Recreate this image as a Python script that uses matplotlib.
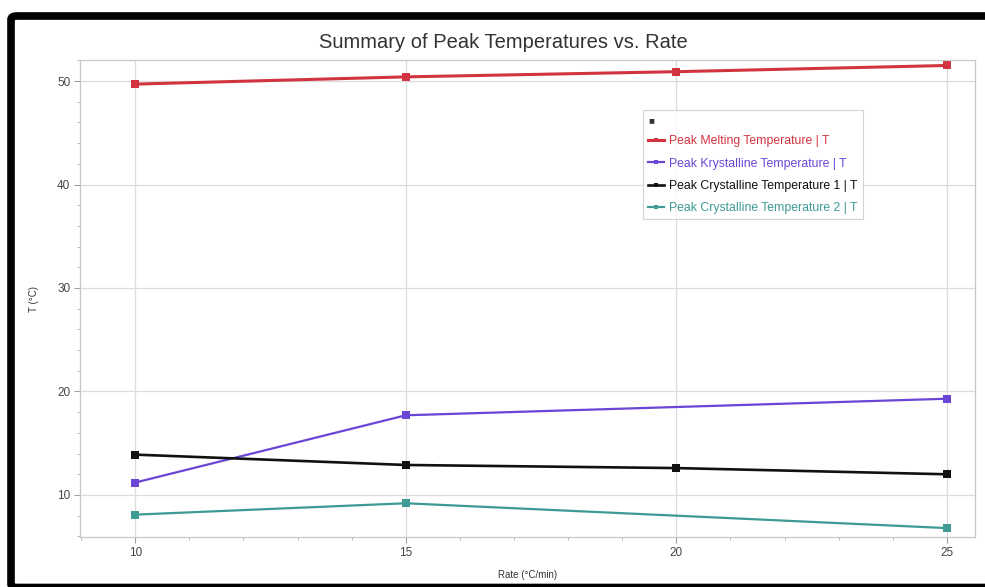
import matplotlib

matplotlib.use("Agg")
import matplotlib.pyplot as plt
from matplotlib.patches import FancyBboxPatch
from matplotlib.ticker import MultipleLocator

plt.rcParams["font.family"] = ["Liberation Sans", "DejaVu Sans"]

# peak temperatures (°C) against heating rate (°C/min)
rate_all = [10, 15, 20, 25]
rate_partial = [10, 15, 25]
melting = [49.7, 50.4, 50.9, 51.5]
krystalline = [11.2, 17.7, 19.3]
crystalline_1 = [13.9, 12.9, 12.6, 12.0]
crystalline_2 = [8.1, 9.2, 6.8]

series = [
    ("Peak Melting Temperature | T", rate_all, melting, "#d1343f", 2.2),
    ("Peak Krystalline Temperature | T", rate_partial, krystalline, "#6a45d6", 1.6),
    ("Peak Crystalline Temperature 1 | T", rate_all, crystalline_1, "#111111", 1.9),
    ("Peak Crystalline Temperature 2 | T", rate_partial, crystalline_2, "#3e9a94", 1.6),
]

W, H = 985, 587
fig = plt.figure(figsize=(W / 100, H / 100), dpi=100)
ax = fig.add_axes([80 / W, 1 - 537 / H, 895 / W, 477 / H])

for label, x, y, color, lw in series:
    ax.plot(x, y, color=color, linewidth=lw, marker="s", markersize=6,
            markeredgewidth=0, label=label)

ax.set_xlim(8.98, 25.52)
ax.set_ylim(5.94, 52.03)
ax.set_xticks(rate_all)
ax.xaxis.set_minor_locator(MultipleLocator(1))
ax.yaxis.set_major_locator(MultipleLocator(10))
ax.yaxis.set_minor_locator(MultipleLocator(2))
ax.grid(True, which="major", color="#dcdcdc", linewidth=0.9)
for s in ax.spines.values():
    s.set_color("#c8c8c8")
    s.set_linewidth(0.9)
ax.tick_params(which="major", length=4, color="#a0a0a0", labelsize=8.5, labelcolor="#444444", pad=3)
ax.tick_params(which="minor", length=2.5, color="#b0b0b0")

ax.set_xlabel("Rate (°C/min)", fontsize=7, color="#333333", labelpad=8)
ax.set_ylabel("T (°C)", fontsize=7, color="#333333", labelpad=13)
fig.text(503 / W, 1 - 43 / H, "Summary of Peak Temperatures vs. Rate",
         ha="center", va="center", fontsize=14.5, color="#333333")

leg = ax.legend(loc="upper left", bbox_to_anchor=(643 / W, 1 - 110 / H),
                bbox_transform=fig.transFigure, title="■", alignment="left",
                fontsize=8.8, labelcolor="linecolor", handlelength=1.3,
                handletextpad=0.45, markerscale=0.5, labelspacing=0.85,
                frameon=True, fancybox=False, borderpad=0.4, borderaxespad=0)
leg.get_title().set_fontsize(7)
leg.get_title().set_color("#333333")
leg.get_frame().set_edgecolor("#c8c8c8")
leg.get_frame().set_linewidth(0.8)

# black outer frame, open past the right edge
frame = FancyBboxPatch((11 / W, -0.5 / H), 1.0, 1 - 15.5 / H,
                       boxstyle="round,pad=0,rounding_size=0.006",
                       transform=fig.transFigure, fill=False,
                       edgecolor="black", linewidth=5.5, zorder=10)
fig.patches.append(frame)

fig.savefig("out.png", dpi=100)
